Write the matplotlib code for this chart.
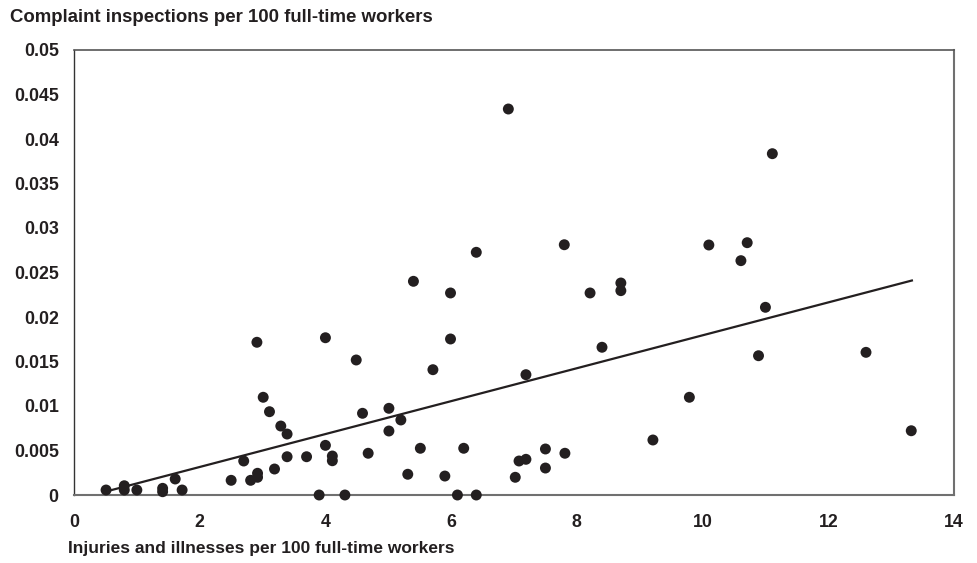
import matplotlib
matplotlib.use("Agg")
import matplotlib.pyplot as plt
import numpy as np

plt.rcParams['font.family'] = ['Liberation Sans', 'DejaVu Sans']

injury_rate = [0.51, 0.80, 0.80, 1.00, 1.41, 1.41, 1.61, 1.72, 2.50, 2.70,
               2.81, 2.92, 2.92, 2.91, 3.01, 3.11, 3.19, 3.29, 3.39, 3.39,
               3.70, 3.90, 4.00, 4.00, 4.11, 4.11, 4.31, 4.49, 4.59, 4.68,
               5.01, 5.01, 5.20, 5.31, 5.40, 5.51, 5.71, 5.90, 5.99, 5.99,
               6.10, 6.20, 6.40, 6.40, 6.91, 7.02, 7.08, 7.19, 7.19, 7.50,
               7.50, 7.81, 7.80, 8.21, 8.40, 8.70, 8.70, 9.21, 9.79, 10.10,
               10.71, 10.61, 11.00, 10.89, 11.11, 12.60, 13.32]
complaint_rate = [0.00056, 0.00104, 0.00056, 0.00056, 0.00075, 0.00037, 0.0018, 0.00056, 0.00165, 0.00382,
                  0.00165, 0.00244, 0.00199, 0.01716, 0.01098, 0.00936, 0.00292, 0.00775, 0.00685, 0.0043,
                  0.0043, 0.0, 0.01767, 0.00558, 0.00438, 0.00385, 0.0, 0.01517, 0.00918, 0.00469,
                  0.00974, 0.00719, 0.00843, 0.00233, 0.02401, 0.00525, 0.01408, 0.00213, 0.0227, 0.01753,
                  0.0, 0.00525, 0.0, 0.02727, 0.04337, 0.00199, 0.00382, 0.00401, 0.01352, 0.00517,
                  0.00303, 0.00469, 0.02812, 0.0227, 0.0166, 0.02382, 0.02296, 0.00618, 0.01098, 0.02809,
                  0.02835, 0.02633, 0.02109, 0.01565, 0.03835, 0.01603, 0.00722]

# Trend line end points
trend_x = [0.60, 13.33]
trend_y = [0.00056, 0.0241]

x_ticks = [0, 2, 4, 6, 8, 10, 12, 14]
y_ticks = [0, 0.005, 0.01, 0.015, 0.02, 0.025, 0.03, 0.035, 0.04, 0.045, 0.05]
y_tick_labels = ['0', '0.005', '0.01', '0.015', '0.02', '0.025', '0.03', '0.035', '0.04', '0.045', '0.05']

title_text = 'Complaint inspections per 100 full-time workers'
xlabel_text = 'Injuries and illnesses per 100 full-time workers'

fig = plt.figure(figsize=(9.78, 5.63), dpi=100)
ax = fig.add_axes([74/978, 68/563, 880/978, 445/563])

ax.plot(trend_x, trend_y, color='#231f20', lw=1.6, zorder=2, clip_on=False)
ax.scatter(injury_rate, complaint_rate, s=62, color='#231f20', edgecolors='none',
           zorder=3, clip_on=False)

ax.set_xlim(0, 14)
ax.set_ylim(0, 0.05)
ax.set_xticks(x_ticks)
ax.set_xticklabels([str(t) for t in x_ticks])
ax.set_yticks(y_ticks)
ax.set_yticklabels(y_tick_labels)
ax.tick_params(axis='both', length=0, labelsize=12.8, colors='#231f20')
ax.tick_params(axis='y', pad=11)
ax.tick_params(axis='x', pad=14)
for lbl in ax.get_xticklabels() + ax.get_yticklabels():
    lbl.set_fontweight('bold')

ax.spines['left'].set_color('#333333')
ax.spines['left'].set_linewidth(1.0)
ax.spines['top'].set_color('#555555')
ax.spines['top'].set_linewidth(1.2)
for s in ['right', 'bottom']:
    ax.spines[s].set_color('#707070')
    ax.spines[s].set_linewidth(1.5)

fig.text(10/978, 1 - 18/563, title_text, fontsize=13.4, fontweight='bold',
         color='#231f20', ha='left', va='center')
fig.text(68/978, 1 - 549/563, xlabel_text, fontsize=12.5, fontweight='bold',
         color='#231f20', ha='left', va='center')

fig.savefig('out.png', dpi=100)
